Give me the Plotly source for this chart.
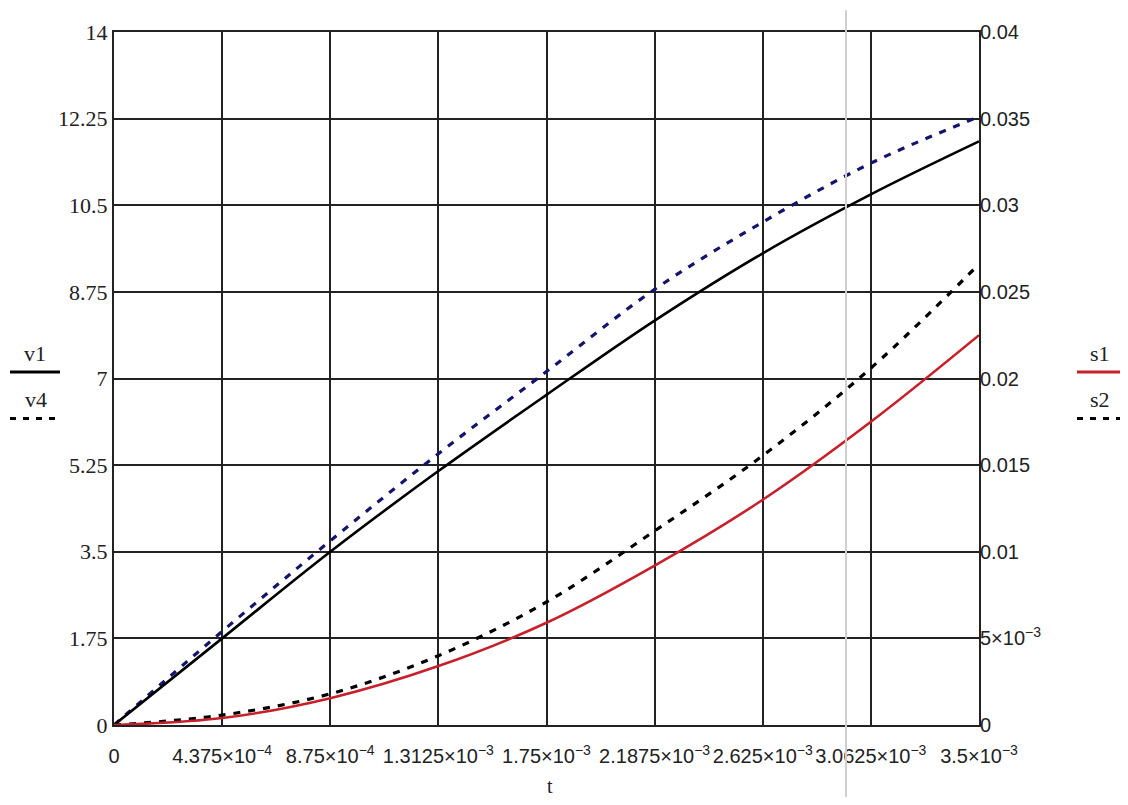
import plotly.graph_objects as go

# ---- data ----
t = [0, 4.375e-4, 8.75e-4, 1.3125e-3, 1.75e-3, 2.1875e-3, 2.625e-3, 3.0625e-3, 3.5e-3]
v1 = [0, 1.75, 3.50, 5.13, 6.67, 8.17, 9.53, 10.72, 11.79]
v4 = [0, 1.89, 3.72, 5.48, 7.14, 8.80, 10.16, 11.35, 12.29]
s1 = [0, 0.0004, 0.00155, 0.0034, 0.0059, 0.0092, 0.0130, 0.0175, 0.0225]
s2 = [0, 0.00057, 0.0018, 0.0040, 0.0071, 0.0112, 0.01555, 0.0206, 0.0266]

x_ticks = t
x_ticktext = ["0", "4.375×10<sup>−4</sup>", "8.75×10<sup>−4</sup>", "1.3125×10<sup>−3</sup>",
              "1.75×10<sup>−3</sup>", "2.1875×10<sup>−3</sup>", "2.625×10<sup>−3</sup>",
              "3.0625×10<sup>−3</sup>", "3.5×10<sup>−3</sup>"]
y_ticks = [0, 1.75, 3.5, 5.25, 7, 8.75, 10.5, 12.25, 14]
y_ticktext = ["0", "1.75", "3.5", "5.25", "7", "8.75", "10.5", "12.25", "14"]
y2_ticks = [0, 0.005, 0.01, 0.015, 0.02, 0.025, 0.03, 0.035, 0.04]
y2_ticktext = ["0", "5×10<sup>−3</sup>", "0.01", "0.015", "0.02", "0.025", "0.03", "0.035", "0.04"]

NAVY = "#14146e"
RED = "#c8202a"
SERIF = "Liberation Serif"
SANS = "Liberation Sans"
INK = "#222222"

fig = go.Figure()
fig.add_trace(go.Scatter(x=t, y=v4, mode="lines", name="v4",
                         line=dict(color=NAVY, width=3.2, dash="7px,8px", shape="spline")))
fig.add_trace(go.Scatter(x=t, y=v1, mode="lines", name="v1",
                         line=dict(color="black", width=2.6, shape="spline")))
fig.add_trace(go.Scatter(x=t, y=s2, mode="lines", name="s2", yaxis="y2",
                         line=dict(color="black", width=3.2, dash="7px,8px", shape="spline")))
fig.add_trace(go.Scatter(x=t, y=s1, mode="lines", name="s1", yaxis="y2",
                         line=dict(color=RED, width=2.6, shape="spline")))

# page body has an 8px margin: plot area should land at x 114..979, y 22..725
fig.update_layout(
    width=1112, height=789,
    margin=dict(l=106, r=141, t=14, b=72),
    paper_bgcolor="white", plot_bgcolor="white",
    showlegend=False,
    xaxis=dict(range=[0, 3.5e-3], tickvals=x_ticks, ticktext=x_ticktext,
               showgrid=True, gridcolor=INK, gridwidth=1.8,
               showline=True, linecolor=INK, linewidth=2, mirror=True,
               ticks="outside", ticklen=12, tickcolor="rgba(0,0,0,0)",
               zeroline=False, tickfont=dict(family=SANS, size=20, color=INK)),
    yaxis=dict(range=[0, 14], tickvals=y_ticks, ticktext=y_ticktext,
               showgrid=True, gridcolor=INK, gridwidth=1.8,
               showline=True, linecolor=INK, linewidth=2, mirror=True,
               zeroline=False, ticks="", tickfont=dict(family=SERIF, size=22, color=INK)),
    yaxis2=dict(range=[0, 0.04], tickvals=y2_ticks, ticktext=y2_ticktext,
                overlaying="y", side="right", showgrid=False, zeroline=False,
                showline=False, ticks="", tickfont=dict(family=SANS, size=20, color=INK)),
)

W, H = 865.0, 703.0
def px(x):
    return (x - 114) / W
def py(y):
    return (725 - y) / H

# light gray vertical artifact line
fig.add_shape(type="line", xref="paper", yref="paper", x0=px(846), x1=px(846), y0=py(805), y1=py(0),
              line=dict(color="#cfcfcf", width=2), layer="above")

# custom legends
for txt, ytxt, yline, col, dash, x0, x1 in [
    ("v1", 348, 367, "black", "solid", 10, 60),
    ("v4", 395, 414, "black", "6px,7px", 10, 62),
    ("s1", 348, 367, RED, "solid", 1077, 1123),
    ("s2", 395, 414, "black", "6px,7px", 1077, 1123),
]:
    fig.add_annotation(xref="paper", yref="paper", x=px((x0 + x1) / 2), y=py(ytxt),
                       text=txt, showarrow=False, xanchor="center", yanchor="middle",
                       font=dict(family=SERIF, size=22, color=INK))
    fig.add_shape(type="line", xref="paper", yref="paper", x0=px(x0), x1=px(x1),
                  y0=py(yline), y1=py(yline), line=dict(color=col, width=3, dash=dash))

fig.add_annotation(xref="paper", yref="paper", x=px(550), y=py(774), text="t", showarrow=False,
                   xanchor="center", yanchor="top", font=dict(family=SERIF, size=20, color=INK))

fig.write_html("out.html")
